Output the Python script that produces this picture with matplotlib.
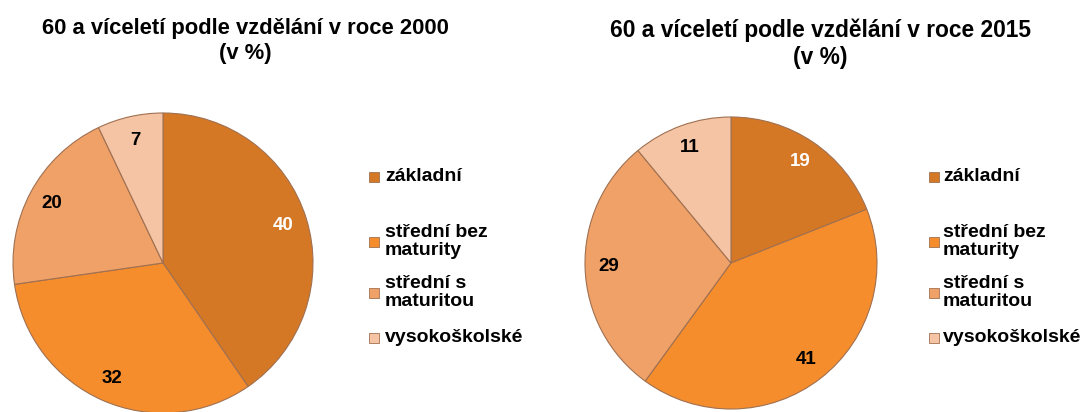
import matplotlib
matplotlib.use("Agg")
import matplotlib.pyplot as plt
import numpy as np
from matplotlib.patches import Rectangle

plt.rcParams['font.family'] = ['Liberation Sans', 'DejaVu Sans']

categories = ["základní", "střední bez\nmaturity", "střední s\nmaturitou", "vysokoškolské"]
values_2000 = [40, 32, 20, 7]
values_2015 = [19, 41, 29, 11]
titles = ["60 a víceletí podle vzdělání v roce 2000\n(v %)",
          "60 a víceletí podle vzdělání v roce 2015\n(v %)"]

colors = ["#D57826", "#F58D2D", "#EFA168", "#F5C4A4"]
label_colors = ["white", "black", "black", "black"]
edge = "#A07050"

W, H = 1080, 412
fig = plt.figure(figsize=(W / 100, H / 100), dpi=100)

def px_axes(cx, cy, r):
    return fig.add_axes([(cx - r) / W, (H - cy - r) / H, 2 * r / W, 2 * r / H])

def draw_pie(ax, vals):
    wedges, _ = ax.pie(vals, colors=colors, startangle=90, counterclock=False,
                       radius=1.0, wedgeprops=dict(edgecolor=edge, linewidth=0.8))
    for w, v, lc in zip(wedges, vals, label_colors):
        mid = np.deg2rad((w.theta1 + w.theta2) / 2)
        ax.text(0.84 * np.cos(mid), 0.84 * np.sin(mid), str(v), ha="center", va="center",
                fontsize=13.5, fontweight="bold", color=lc)
    ax.set_xlim(-1.0, 1.0)
    ax.set_ylim(-1.0, 1.0)
    ax.set_aspect("equal")
    ax.axis("off")

ax1 = px_axes(163, 263, 150)
draw_pie(ax1, values_2000)
ax2 = px_axes(731, 263, 146)
draw_pie(ax2, values_2015)

# titles
fig.text(245 / W, 1 - 41 / H, titles[0], ha="center", va="center", fontsize=15.8,
         fontweight="bold", linespacing=1.22)
fig.text(820 / W, 1 - 44 / H, titles[1], ha="center", va="center", fontsize=16.4,
         fontweight="bold", linespacing=1.22)

# legends
legend_y = [177, 241.5, 292.5, 338]
for mx, tx in [(369, 385), (929, 943)]:
    for lab, col, y in zip(categories, colors, legend_y):
        fig.patches.append(Rectangle(((mx) / W, 1 - (y + 5) / H), 10 / W, 10 / H,
                                     transform=fig.transFigure, facecolor=col,
                                     edgecolor="#A07050", linewidth=0.6))
        fig.text(tx / W, 1 - y / H, lab, ha="left", va="center", fontsize=14,
                 fontweight="bold", linespacing=1.1)

fig.savefig("out.png", dpi=100)
